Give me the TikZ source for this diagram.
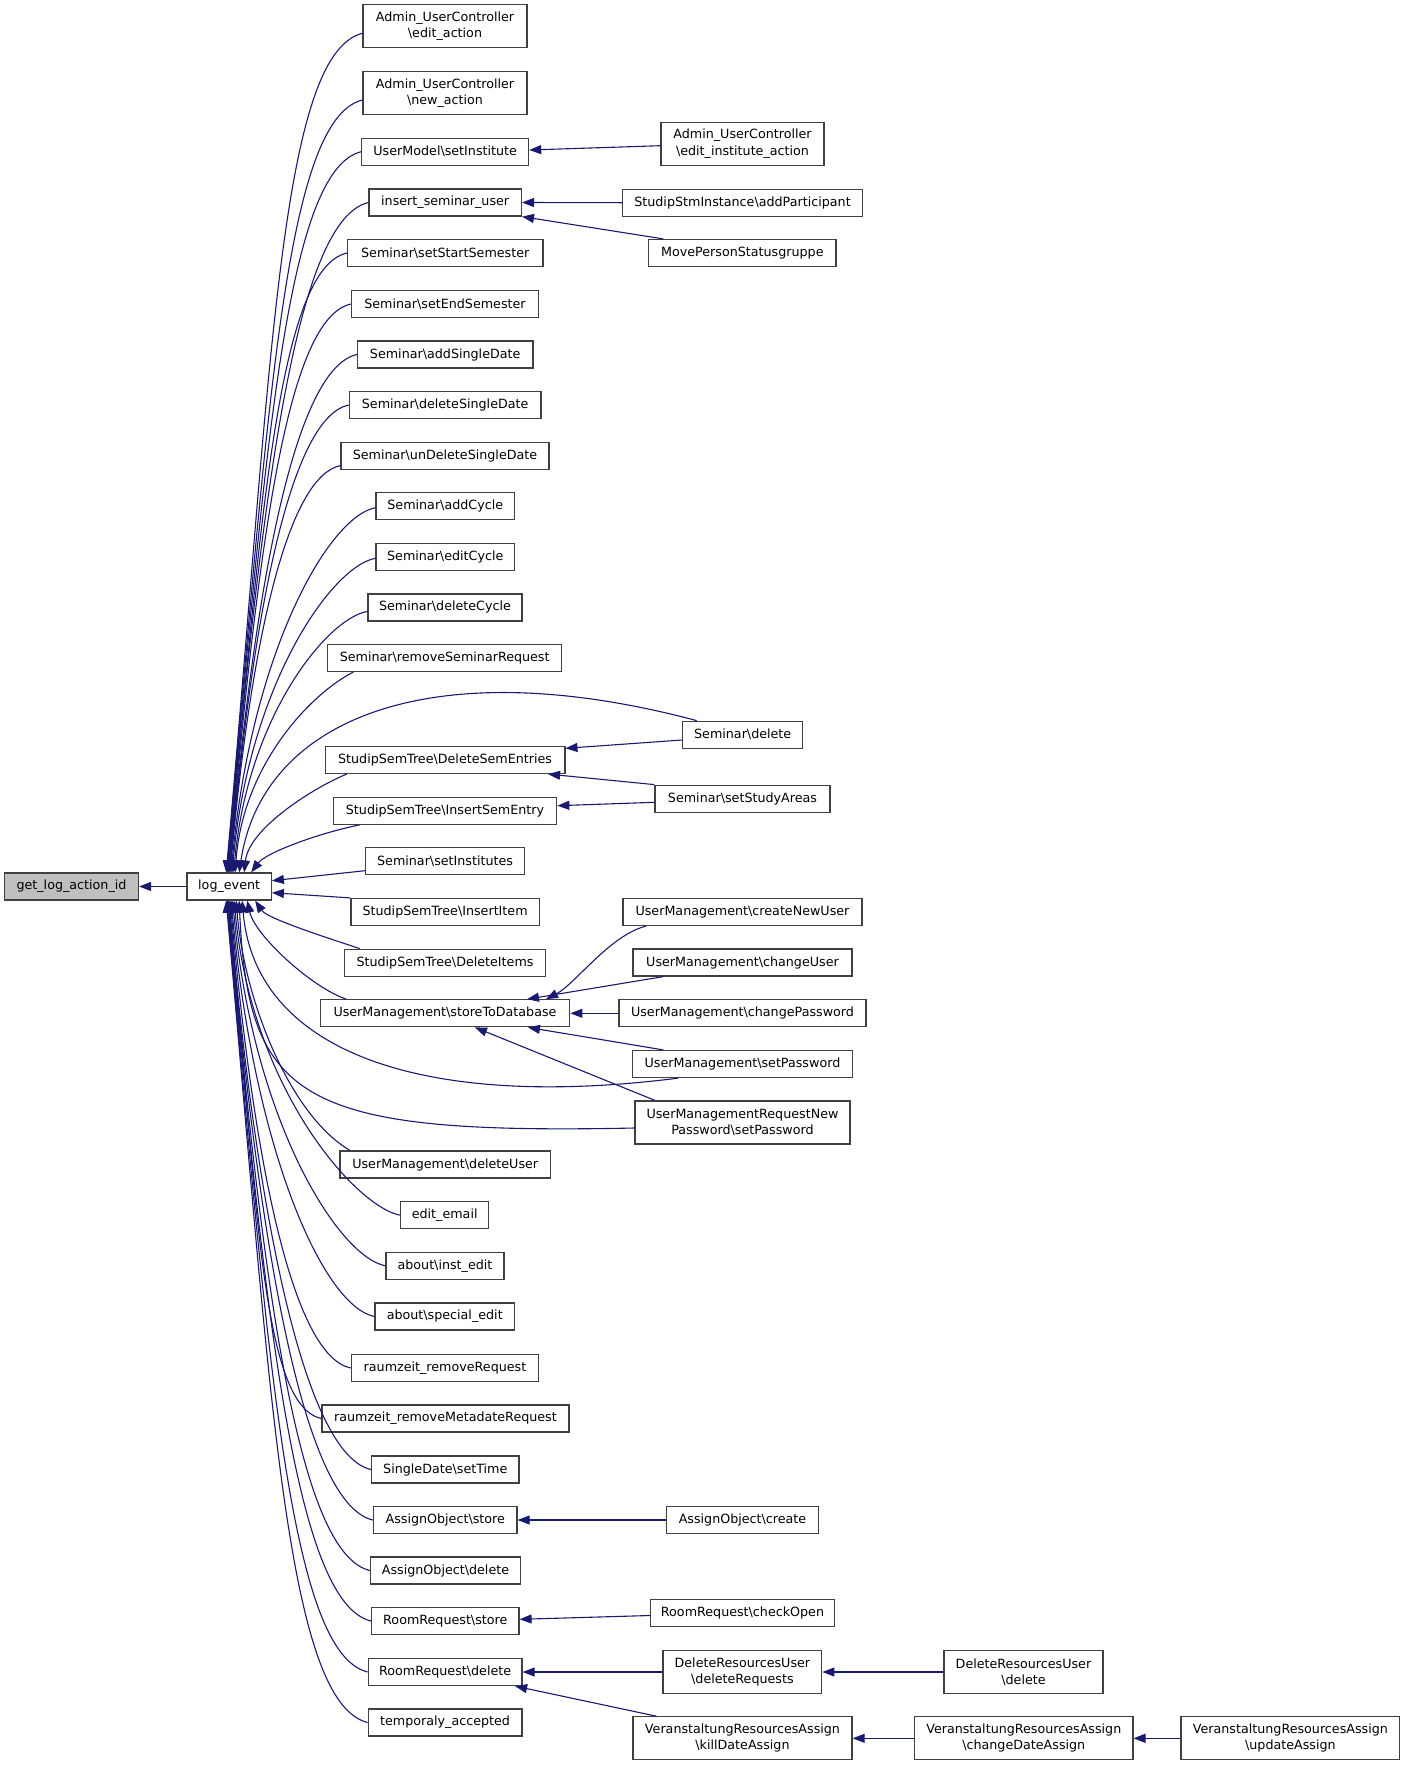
\documentclass[tikz,border=0pt]{standalone}
\usepackage{fontspec}
\setmainfont{DejaVu Sans}
\usetikzlibrary{arrows.meta}
\definecolor{edgeblue}{HTML}{191970}
\definecolor{boxline}{HTML}{404040}
\definecolor{rootfill}{HTML}{BFBFBF}
\newcommand\bk{\textbackslash}
\tikzset{
  box/.style={draw=boxline, line width=1.2pt, fill=white, inner sep=0pt, minimum height=27pt, align=center, font=\fontsize{12.7}{16.3}\selectfont},
  twoline/.style={minimum height=43pt},
  back/.style={draw=edgeblue, line width=1.1pt, {Triangle[length=12pt,width=9pt]}-},
}
\begin{document}
\begin{tikzpicture}[x=1pt,y=1pt]
\useasboundingbox (0,0) rectangle (1405,-1765);
% root and log_event
\node[box, fill=rootfill, minimum width=134pt] (get) at (71.5,-886.5) {get\_log\_action\_id};
\node[box, minimum width=84.3pt] (log) at (229.15,-886.5) {log\_event};
% column 2
\node[box,twoline,minimum width=164pt] (c1) at (445,-26.3) {Admin\_UserController\\\bk edit\_action};
\node[box,twoline,minimum width=164pt] (c2) at (445,-93) {Admin\_UserController\\\bk new\_action};
\node[box,minimum width=166.8pt] (c3) at (445.2,-151.7) {UserModel\bk setInstitute};
\node[box,minimum width=152.4pt] (c4) at (445.2,-202.5) {insert\_seminar\_user};
\node[box,minimum width=195.5pt] (c5) at (445.25,-253) {Seminar\bk setStartSemester};
\node[box,minimum width=187.2pt] (c6) at (445,-304) {Seminar\bk setEndSemester};
\node[box,minimum width=175.4pt] (c7) at (445.2,-354.5) {Seminar\bk addSingleDate};
\node[box,minimum width=191.7pt] (c8) at (445.15,-405) {Seminar\bk deleteSingleDate};
\node[box,minimum width=208pt] (c9) at (445,-455.6) {Seminar\bk unDeleteSingleDate};
\node[box,minimum width=138.5pt] (c10) at (445.25,-506.2) {Seminar\bk addCycle};
\node[box,minimum width=138.5pt] (c11) at (445.25,-556.8) {Seminar\bk editCycle};
\node[box,minimum width=154pt] (c12) at (445,-607.4) {Seminar\bk deleteCycle};
\node[box,minimum width=234.2pt] (c13) at (444.7,-658) {Seminar\bk removeSeminarRequest};
\node[box,minimum width=239.6pt] (c14) at (445.1,-760) {StudipSemTree\bk DeleteSemEntries};
\node[box,minimum width=223.5pt] (c15) at (445,-810.7) {StudipSemTree\bk InsertSemEntry};
\node[box,minimum width=159.2pt] (c16) at (445.1,-861) {Seminar\bk setInstitutes};
\node[box,minimum width=188.2pt] (c17) at (445.1,-912) {StudipSemTree\bk InsertItem};
\node[box,minimum width=201.3pt] (c18) at (445,-962.7) {StudipSemTree\bk DeleteItems};
\node[box,minimum width=249.5pt] (c19) at (445,-1013.3) {UserManagement\bk storeToDatabase};
\node[box,minimum width=210.5pt] (c20) at (445.25,-1164.5) {UserManagement\bk deleteUser};
\node[box,minimum width=87.8pt] (c21) at (444.7,-1215.2) {edit\_email};
\node[box,minimum width=118pt] (c22) at (445,-1265.8) {about\bk inst\_edit};
\node[box,minimum width=139.5pt] (c23) at (444.75,-1316.5) {about\bk special\_edit};
\node[box,minimum width=187.5pt] (c24) at (445,-1368) {raumzeit\_removeRequest};
\node[box,minimum width=247.1pt] (c25) at (445.45,-1418.5) {raumzeit\_removeMetadateRequest};
\node[box,minimum width=147.4pt] (c26) at (445.3,-1469.5) {SingleDate\bk setTime};
\node[box,minimum width=143.5pt] (c27) at (445.25,-1520) {AssignObject\bk store};
\node[box,minimum width=150pt] (c28) at (445.5,-1570.5) {AssignObject\bk delete};
\node[box,minimum width=147.4pt] (c29) at (445.3,-1621) {RoomRequest\bk store};
\node[box,minimum width=153.8pt] (c30) at (445.1,-1672) {RoomRequest\bk delete};
\node[box,minimum width=153.8pt] (c31) at (445.1,-1722.5) {temporaly\_accepted};
% column 3
\node[box,twoline,minimum width=163pt] (editInstA) at (742.5,-143.8) {Admin\_UserController\\\bk edit\_institute\_action};
\node[box,minimum width=239.6pt] (addPart) at (742.5,-202.7) {StudipStmInstance\bk addParticipant};
\node[box,minimum width=187.3pt] (movePSG) at (742.35,-253) {MovePersonStatusgruppe};
\node[box,minimum width=120pt] (semDelete) at (742.7,-734.7) {Seminar\bk delete};
\node[box,minimum width=175pt] (setStudy) at (742.5,-798.7) {Seminar\bk setStudyAreas};
\node[box,minimum width=239pt] (createNU) at (742.5,-912) {UserManagement\bk createNewUser};
\node[box,minimum width=219pt] (changeU) at (742.5,-962.5) {UserManagement\bk changeUser};
\node[box,minimum width=247pt] (changePW) at (742.5,-1013.3) {UserManagement\bk changePassword};
\node[box,minimum width=220.4pt] (setPW) at (742.5,-1064) {UserManagement\bk setPassword};
\node[box,twoline,minimum width=215pt] (reqNewPW) at (742.5,-1122.5) {UserManagementRequestNew\\Password\bk setPassword};
\node[box,minimum width=152pt] (aoCreate) at (742.5,-1520) {AssignObject\bk create};
\node[box,minimum width=183.5pt] (checkOpen) at (742.5,-1613.3) {RoomRequest\bk checkOpen};
\node[box,twoline,minimum width=158.8pt] (delReqs) at (742.4,-1672) {DeleteResourcesUser\\\bk deleteRequests};
\node[box,twoline,minimum width=219.1pt] (killDA) at (742.5,-1738.3) {VeranstaltungResourcesAssign\\\bk killDateAssign};
% column 4 and 5
\node[box,twoline,minimum width=159pt] (druDelete) at (1023.5,-1672) {DeleteResourcesUser\\\bk delete};
\node[box,twoline,minimum width=218.2pt] (changeDA) at (1023.8,-1738.3) {VeranstaltungResourcesAssign\\\bk changeDateAssign};
\node[box,twoline,minimum width=218.8pt] (updateA) at (1290.4,-1738.3) {VeranstaltungResourcesAssign\\\bk updateAssign};

% ---- edges ----
\draw[back] (get.east) -- (log.west);
% upper callers of log_event
\foreach \nm/\tp/\ys/\dd in {c1/-3/-7/840, c2/-2.5/-7/773, c3/-2/0/721, c4/-1.5/0/670.5, c5/-1/0/620, c6/-0.5/0/569, c7/0/0/518.5, c8/0.5/0/468, c9/1/-10/407.4, c10/2/-1.5/365.3, c11/3/-1.5/314.7, c12/4.5/-4/261.6}{
  \pgfmathsetmacro\cax{0.054*\dd}
  \pgfmathsetmacro\cay{0.6*\dd}
  \pgfmathsetmacro\cbx{-(20+0.075*\dd)}
  \pgfmathsetmacro\cby{-0.025*\dd}
  \draw[back] ([xshift=\tp pt]log.north) .. controls +(\cax,\cay) and +(\cbx,\cby) .. ([yshift=\ys pt]\nm.west);
}
\draw[back] ([xshift=6pt]log.north) .. controls +(8,110) and +(-40,-20) .. ([xshift=-91.4pt]c13.south);
\draw[back] ([xshift=10pt]log.north) .. controls +(23,153) and +(-266.7,71) .. ([xshift=-46pt]semDelete.north);
\draw[back] ([xshift=15pt]log.north) .. controls +(5,45) and +(-30,-12) .. ([xshift=-98.4pt]c14.south);
\draw[back] ([xshift=22pt]log.north) .. controls +(15,20) and +(-40,-8) .. ([xshift=-85pt]c15.south);
\draw[back] ([yshift=5.8pt]log.east) -- ([yshift=-9.7pt]c16.west);
\draw[back] ([yshift=-6.2pt]log.east) -- (c17.north west);
% lower callers of log_event
\draw[back] ([xshift=26pt]log.south) .. controls +(12,-18) and +(-30,10) .. ([xshift=-85.3pt]c18.north);
\draw[back] ([xshift=18pt]log.south) .. controls +(8,-35) and +(-35,12) .. ([xshift=-98.7pt]c19.north);
\draw[back] ([xshift=13pt]log.south) .. controls +(13,-150) and +(-258.3,-32.7) .. ([xshift=-64.2pt]setPW.south);
\draw[back] ([xshift=10pt]log.south) .. controls +(9,-200) and +(-335,-7) .. ([yshift=-5.5pt]reqNewPW.west);
\draw[back] ([xshift=7pt]log.south) .. controls +(8,-100) and +(-60,35) .. ([xshift=-95.25pt]c20.north);
\foreach \nm/\tp/\dd in {c21/5/315.2, c22/3.5/365.8, c23/2/416.5, c24/1/468, c25/0/518.5, c26/-0.5/569.5, c27/-1/620, c28/-1.5/670.5, c29/-2/721, c30/-2.5/772, c31/-3/822.5}{
  \pgfmathsetmacro\cax{0.054*\dd}
  \pgfmathsetmacro\cay{-0.6*\dd}
  \pgfmathsetmacro\cbx{-(20+0.075*\dd)}
  \pgfmathsetmacro\cby{0.025*\dd}
  \draw[back] ([xshift=\tp pt]log.south) .. controls +(\cax,\cay) and +(\cbx,\cby) .. (\nm.west);
}
% column 3 to column 2
\draw[back] ([yshift=1.7pt]c3.east) -- ([yshift=-1.9pt]editInstA.west);
\draw[back] (c4.east) -- (addPart.west);
\draw[back] (c4.south east) -- ([xshift=-79pt]movePSG.north);
\draw[back] ([yshift=11.7pt]c14.east) -- ([yshift=-5.3pt]semDelete.west);
\draw[back] ([xshift=103pt]c14.south) -- (setStudy.north west);
\draw[back] ([yshift=5pt]c15.east) -- ([yshift=-3.6pt]setStudy.west);
\draw[back] ([xshift=101pt]c19.north) .. controls +(29,15) and +(-36,-9) .. ([xshift=-96.5pt]createNU.south);
\draw[back] ([xshift=82pt]c19.north) -- ([xshift=-79.2pt]changeU.south);
\draw[back] (c19.east) -- (changePW.west);
\draw[back] ([xshift=83pt]c19.south) -- ([xshift=-79.2pt]setPW.north);
\draw[back] ([xshift=30pt]c19.south) -- ([xshift=-87.5pt]reqNewPW.north);
\draw[back] (c27.east) -- (aoCreate.west);
\draw[back] ([yshift=1.7pt]c29.east) -- ([yshift=-2.2pt]checkOpen.west);
\draw[back] (c30.east) -- (delReqs.west);
\draw[back] ([xshift=70pt]c30.south) -- ([xshift=-86pt]killDA.north);
\draw[back] (delReqs.east) -- (druDelete.west);
\draw[back] (killDA.east) -- (changeDA.west);
\draw[back] (changeDA.east) -- (updateA.west);
\end{tikzpicture}
\end{document}
